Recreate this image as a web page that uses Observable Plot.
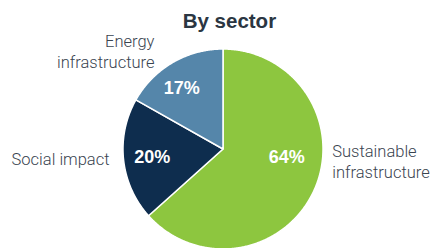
<!DOCTYPE html>
<html>
<head>
<meta charset="utf-8">
<script src="https://cdn.jsdelivr.net/npm/d3@7"></script>
<script src="https://cdn.jsdelivr.net/npm/@observablehq/plot@0.6"></script>
<style>
  html, body { margin: 0; padding: 0; background: #ffffff; }
  #wrap { position: relative; width: 434px; height: 248px; overflow: hidden; }
  #title {
    position: absolute; top: 11px; left: 229.4px; transform: translateX(-50%);
    font-family: "Liberation Sans", Arial, sans-serif; font-weight: bold;
    font-size: 20.5px; line-height: 1; color: #2b3642; white-space: nowrap;
  }
  #chart { position: absolute; left: 0; top: 0; }
</style>
</head>
<body>
<div id="wrap">
  <div id="chart"></div>
  <div id="title">By sector</div>
</div>
<script>
// ---- data ----
const sectors = ["Sustainable infrastructure", "Social impact", "Energy infrastructure"];
const shares = [64, 20, 17];
const pctLabels = ["64%", "20%", "17%"];
const sectorLabels = ["Sustainable\ninfrastructure", "Social impact", "Energy\ninfrastructure"];
const palette = ["#8dc63f", "#0e2d4e", "#5586aa"];

// ---- layout (code, not data) ----
const pctLayout = [{da: -16.5, r: 0.643}, {da: -0.5, r: 0.713}, {da: -4, r: 0.73}];
const labelLayout = [
  {a: 96.2, r: 1.099, anchor: "start"},
  {a: 265.0, r: 1.139, anchor: "end"},
  {a: 325.0, r: 1.195, anchor: "end"}
];
const toRad = d => d * Math.PI / 180;
const polar = (aDeg, r) => [r * Math.sin(toRad(aDeg)), r * Math.cos(toRad(aDeg))];

const arcs = d3.pie().sort(null).value(d => d)(shares);

// polygons for slices
const pts = [];
arcs.forEach((a, i) => {
  const s = sectors[i];
  pts.push({sector: s, x: 0, y: 0});
  const n = Math.max(2, Math.ceil((a.endAngle - a.startAngle) / (Math.PI / 360)));
  for (let k = 0; k <= n; k++) {
    const t = a.startAngle + (a.endAngle - a.startAngle) * k / n;
    pts.push({sector: s, x: Math.sin(t), y: Math.cos(t)});
  }
  pts.push({sector: s, x: 0, y: 0});
});

const pctData = arcs.map((a, i) => {
  const mid = ((a.startAngle + a.endAngle) / 2) * 180 / Math.PI;
  const [x, y] = polar(mid + pctLayout[i].da, pctLayout[i].r);
  return {x, y, text: pctLabels[i]};
});

const labData = arcs.map((a, i) => {
  const [x, y] = polar(labelLayout[i].a, labelLayout[i].r);
  return {x, y, text: sectorLabels[i], anchor: labelLayout[i].anchor};
});

const labelStyle = {
  fontFamily: "Roboto, 'Liberation Sans', sans-serif",
  fontSize: 16.5,
  fontWeight: 300,
  fill: "#3a4450",
  lineHeight: 1.24
};

const chart = Plot.plot({
  width: 434,
  height: 248,
  margin: 0,
  x: {domain: [-1, 1], range: [122.5, 322.5], axis: null},
  y: {domain: [-1, 1], range: [248.5, 48.5], axis: null},
  color: {domain: sectors, range: palette},
  style: {background: "#ffffff", overflow: "visible"},
  marks: [
    Plot.line(pts, {x: "x", y: "y", z: "sector", fill: "sector", stroke: "#ffffff", strokeWidth: 1.5, strokeLinejoin: "round", curve: "linear"}),
    Plot.text(pctData, {x: "x", y: "y", text: "text", fill: "#ffffff", fontWeight: "bold", fontSize: 18, fontFamily: "'Liberation Sans', Arial, sans-serif"}),
    Plot.text(labData.filter(d => d.anchor === "start"), {x: "x", y: "y", text: "text", textAnchor: "start", ...labelStyle}),
    Plot.text(labData.filter(d => d.anchor === "end"), {x: "x", y: "y", text: "text", textAnchor: "end", ...labelStyle})
  ]
});
document.getElementById("chart").appendChild(chart);
</script>
</body>
</html>
